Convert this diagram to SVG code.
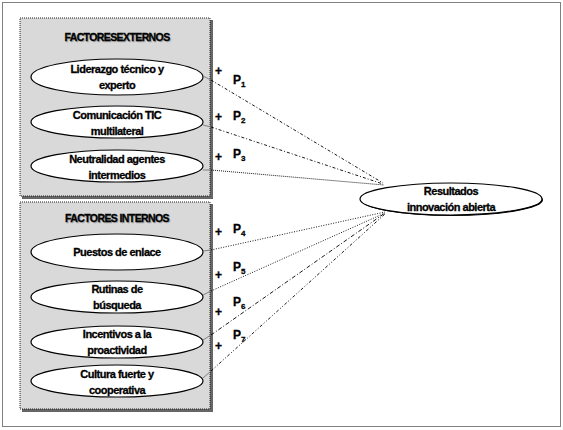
<svg xmlns="http://www.w3.org/2000/svg" width="563" height="430" viewBox="0 0 563 430">
<style>
.t{font-family:"Liberation Sans",Arial,sans-serif;font-weight:bold;font-size:11px;letter-spacing:-0.5px;fill:#000;stroke:#000;stroke-width:0.3;text-anchor:middle}
.h{font-family:"Liberation Sans",Arial,sans-serif;font-weight:bold;font-size:10.5px;letter-spacing:-0.6px;fill:#000;stroke:#000;stroke-width:0.3;text-anchor:middle}
.l{font-family:"Liberation Sans",Arial,sans-serif;font-weight:bold;font-size:12px;fill:#000;stroke:#000;stroke-width:0.3}
.s{font-size:8px}
.box{fill:#d9d9d9;stroke:#222;stroke-width:1}
.sh{fill:#666}
.el{fill:#fff;stroke:#000;stroke-width:1.2}
.c{fill:none;stroke:#000;stroke-width:0.9}
.g{fill:none;stroke:#777;stroke-width:0.9}
</style>
<rect x="2.5" y="2.5" width="558" height="424" fill="#fff" stroke="#000" stroke-width="1" stroke-dasharray="1,1"/>

<g id="externos">
<rect class="sh" x="22" y="20" width="191" height="179"/>
<rect class="box" x="20" y="18" width="190" height="178" stroke-dasharray="1,1"/>
<text class="h" x="118" y="42" fill="#999" stroke="#999" style="fill:#aaa;stroke:#aaa">FACTORESEXTERNOS</text>
<text class="h" x="117" y="41">FACTORESEXTERNOS</text>
</g>
<g id="n1"><ellipse class="el" cx="117" cy="77" rx="86" ry="18"/><text class="t" x="117" y="73">Liderazgo técnico y</text><text class="t" x="117" y="89">experto</text></g>
<g id="n2"><ellipse class="el" cx="117" cy="122" rx="86" ry="16"/><text class="t" x="117" y="119">Comunicación TIC</text><text class="t" x="117" y="135">multilateral</text></g>
<g id="n3"><ellipse class="el" cx="117" cy="166" rx="86" ry="16"/><text class="t" x="117" y="163">Neutralidad agentes</text><text class="t" x="117" y="179">intermedios</text></g>

<g id="internos">
<rect class="sh" x="22" y="204" width="191" height="208"/>
<rect class="box" x="20" y="202" width="190" height="207" stroke-dasharray="1,1"/>
<text class="h" x="118" y="223" style="fill:#aaa;stroke:#aaa">FACTORES INTERNOS</text>
<text class="h" x="117" y="222">FACTORES INTERNOS</text>
</g>
<g id="n4"><ellipse class="el" cx="117" cy="252" rx="86" ry="18"/><text class="t" x="117" y="256">Puestos de enlace</text></g>
<g id="n5"><ellipse class="el" cx="117" cy="297" rx="86" ry="16"/><text class="t" x="117" y="293">Rutinas de</text><text class="t" x="117" y="309">búsqueda</text></g>
<g id="n6"><ellipse class="el" cx="117" cy="342" rx="86" ry="16"/><text class="t" x="117" y="338">Incentivos a la</text><text class="t" x="117" y="354">proactividad</text></g>
<g id="n7"><ellipse class="el" cx="117" cy="381" rx="86" ry="16"/><text class="t" x="117" y="378">Cultura fuerte y</text><text class="t" x="117" y="394">cooperativa</text></g>

<g id="resultado">
<ellipse cx="452" cy="200" rx="91" ry="16" fill="#000"/>
<ellipse class="el" cx="451" cy="199" rx="91" ry="16"/>
<text class="t" x="451" y="195">Resultados</text><text class="t" x="451" y="211">innovación abierta</text>
</g>

<g id="connectors">
<path class="g" d="M203,76 L211,80"/>
<path class="c" d="M211,80 L383,183" stroke-dasharray="3,2,1,2"/>
<path class="g" d="M203,125 L211,127"/>
<path class="c" d="M211,127 L383,184" stroke-dasharray="3,2,1,2"/>
<path class="g" d="M203,170 L211,170"/>
<path class="c" d="M211,170 L384,185" stroke-dasharray="1,1"/>
<path class="g" d="M203,251 L211,250"/>
<path class="c" d="M211,250 L385,212" stroke-dasharray="1,1.5"/>
<path class="g" d="M203,295 L211,291"/>
<path class="c" d="M211,291 L385,213" stroke-dasharray="1,1.5"/>
<path class="g" d="M203,340 L211,335"/>
<path class="c" d="M211,335 L385,213" stroke-dasharray="4,2,1,2"/>
<path class="g" d="M203,378 L211,371"/>
<path class="c" d="M211,371 L385,214" stroke-dasharray="3,2,1,2,1,2"/>
</g>

<g id="labels">
<text class="l" x="215" y="75">+</text><text class="l" x="233" y="84">P<tspan class="s" dy="3">1</tspan></text>
<text class="l" x="215" y="121">+</text><text class="l" x="233" y="120">P<tspan class="s" dy="3">2</tspan></text>
<text class="l" x="215" y="161">+</text><text class="l" x="233" y="158">P<tspan class="s" dy="3">3</tspan></text>
<text class="l" x="215" y="236">+</text><text class="l" x="233" y="233">P<tspan class="s" dy="3">4</tspan></text>
<text class="l" x="215" y="279">+</text><text class="l" x="233" y="271">P<tspan class="s" dy="3">5</tspan></text>
<text class="l" x="215" y="316">+</text><text class="l" x="233" y="306">P<tspan class="s" dy="3">6</tspan></text>
<text class="l" x="215" y="350">+</text><text class="l" x="233" y="339">P<tspan class="s" dy="3">7</tspan></text>
</g>
</svg>
